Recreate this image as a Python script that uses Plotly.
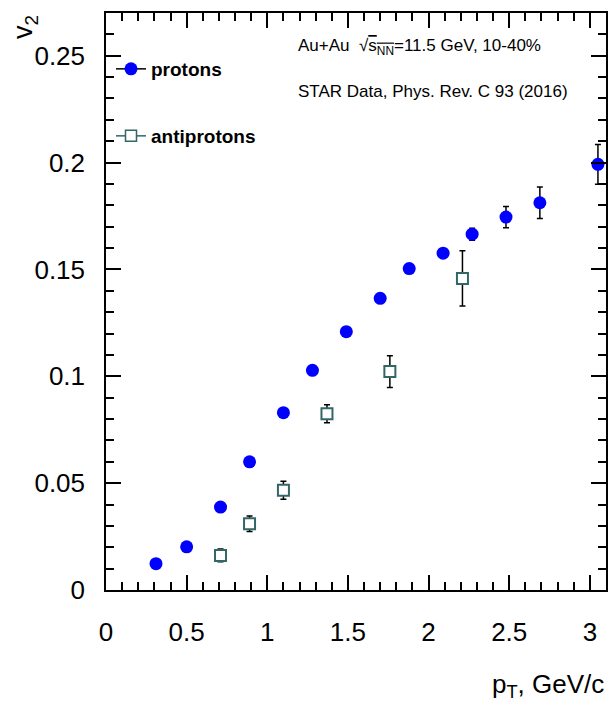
import plotly.graph_objects as go

# STAR Au+Au 11.5 GeV, 10-40% centrality: elliptic flow v2 vs pT
proton_pt = [0.31, 0.50, 0.71, 0.89, 1.10, 1.28, 1.49, 1.70, 1.88, 2.09, 2.27, 2.48, 2.69, 3.05]
proton_v2 = [0.0123, 0.0202, 0.0388, 0.0600, 0.0830, 0.1028, 0.1209, 0.1365, 0.1504,
             0.1576, 0.1665, 0.1745, 0.1812, 0.1992]
proton_err = [0.0005, 0.0005, 0.0006, 0.0007, 0.0008, 0.0010, 0.0012, 0.0014, 0.0017,
              0.0020, 0.0028, 0.0050, 0.0074, 0.0093]

antiproton_pt = [0.71, 0.89, 1.10, 1.37, 1.76, 2.21]
antiproton_v2 = [0.0162, 0.0310, 0.0467, 0.0825, 0.1022, 0.1458]
antiproton_err = [0.0030, 0.0036, 0.0042, 0.0042, 0.0074, 0.0129]

x_ticks = [0, 0.5, 1, 1.5, 2, 2.5, 3]
y_ticks = [0, 0.05, 0.1, 0.15, 0.2, 0.25]

FONT = "Liberation Sans, Arial, Helvetica, sans-serif"
BLUE = "#0000ff"
TEAL = "#336666"

fig = go.Figure()

fig.add_trace(go.Scatter(
    x=proton_pt, y=proton_v2, mode="markers", showlegend=False,
    error_y=dict(type="data", array=proton_err, color="black", thickness=1.5, width=3),
    marker=dict(symbol="circle", size=13, color=BLUE, line=dict(width=0)),
))
fig.add_trace(go.Scatter(
    x=antiproton_pt, y=antiproton_v2, mode="markers", showlegend=False,
    error_y=dict(type="data", array=antiproton_err, color="black", thickness=1.5, width=3),
    marker=dict(symbol="square", size=11, color="white", line=dict(width=2, color=TEAL)),
))

# legend entries (marker with a line through it)
fig.add_trace(go.Scatter(
    x=[None], y=[None], mode="lines+markers", name="<b>protons</b>", legend="legend",
    line=dict(color="black", width=1.5),
    marker=dict(symbol="circle", size=13, color=BLUE),
))
fig.add_trace(go.Scatter(
    x=[None], y=[None], mode="lines+markers", name="<b>antiprotons</b>", legend="legend2",
    line=dict(color=TEAL, width=1.5),
    marker=dict(symbol="square", size=11, color="white", line=dict(width=1.5, color=TEAL)),
))

axis_common = dict(
    showline=True, linecolor="black", linewidth=1.5, mirror="allticks",
    ticks="inside", ticklen=15, tickwidth=1.5, tickcolor="black",
    showgrid=False, zeroline=False,
    tickfont=dict(family=FONT, size=26, color="black"),
)

fig.update_xaxes(
    range=[0, 3.1], tickvals=x_ticks, ticktext=[f"{v:g}" for v in x_ticks],
    minor=dict(ticks="inside", ticklen=8, dtick=0.1, tick0=0, tickcolor="black", tickwidth=1.5),
    ticklabelstandoff=18, **axis_common,
)
fig.update_yaxes(
    range=[0, 0.27], tickvals=y_ticks, ticktext=[f"{v:g}" for v in y_ticks],
    minor=dict(ticks="inside", ticklen=8, dtick=0.01, tick0=0, tickcolor="black", tickwidth=1.5),
    ticklabelstandoff=14, **axis_common,
)

legend_common = dict(
    xref="container", yref="container", xanchor="left", yanchor="middle",
    bgcolor="rgba(0,0,0,0)", borderwidth=0,
    font=dict(family=FONT, size=19, color="black"),
    itemwidth=30,
)

fig.update_layout(
    width=608, height=706,
    margin=dict(l=106, r=2, t=13, b=116, autoexpand=False),
    paper_bgcolor="white", plot_bgcolor="white",
    legend=dict(x=111 / 608, y=1 - 69 / 706, **legend_common),
    legend2=dict(x=111 / 608, y=1 - 136 / 706, **legend_common),
    annotations=[
        dict(text="Au+Au  √<span style='text-decoration:overline'>s<sub>NN</sub></span>=11.5 GeV, 10-40%",
             xref="paper", yref="paper", x=(296 - 106) / 500, y=1 - (47 - 13) / 577,
             xanchor="left", yanchor="middle", showarrow=False,
             font=dict(family=FONT, size=17, color="black")),
        dict(text="STAR Data, Phys. Rev. C 93 (2016)",
             xref="paper", yref="paper", x=(296 - 106) / 500, y=1 - (92 - 13) / 577,
             xanchor="left", yanchor="middle", showarrow=False,
             font=dict(family=FONT, size=17, color="black")),
        dict(text="v<sub>2</sub>", textangle=-90,
             xref="paper", yref="paper", x=-100 / 500, y=1.0,
             xanchor="left", yanchor="top", showarrow=False,
             font=dict(family=FONT, size=27, color="black")),
        dict(text="p<sub>T</sub>, GeV/c",
             xref="paper", yref="paper", x=1.0, y=-(685 - 590) / 577,
             xanchor="right", yanchor="middle", showarrow=False,
             font=dict(family=FONT, size=26, color="black")),
    ],
)

fig.write_html("out.html")
